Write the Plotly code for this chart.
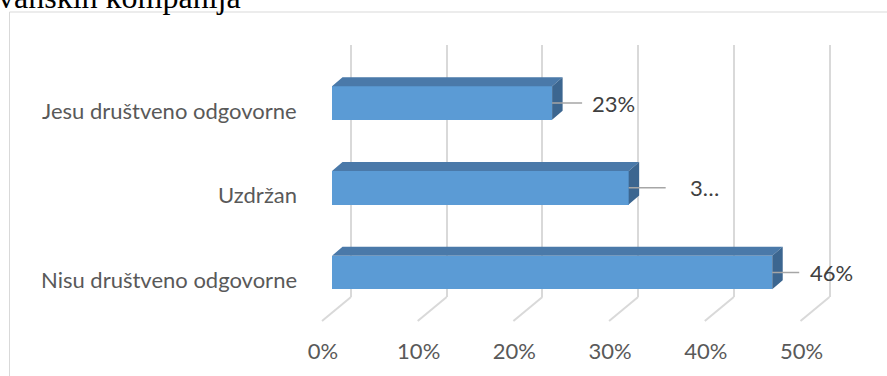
import plotly.graph_objects as go

# ---- data -------------------------------------------------------------
categories = ["Jesu društveno odgovorne", "Uzdržan", "Nisu društveno odgovorne"]
values = [23, 31, 46]                      # percent
x_ticks = [0, 10, 20, 30, 40, 50]
tick_labels = [f"{t}%" for t in x_ticks]
title_text = "vanskih kompanija"

# ---- geometry of the pseudo-3D projection (pixels) ----------------------
W, H = 887, 376
PX_PER_PCT = 9.57          # horizontal scale, px per percent
FRONT_ZERO_PX = 332        # x pixel of 0 % on the bar front faces
WALL_ZERO_PX = 351         # x pixel of 0 % on the back wall
FLOOR_FRONT_SHIFT = -10    # front edge of the floor relative to the bar fronts
ROW0_PX = 272.5            # y pixel of the lowest category centre
ROW_STEP_PX = 84.75        # distance between category rows
WALL_TOP_PX, WALL_BOTTOM_PX = 45, 297
FLOOR_FRONT_PX = 321
BAR_H_PX = 33.5
DEPTH_DX_PX, DEPTH_DY_PX = 10.5, 9.0
TICK_LABEL_PX = 353
TICK_LABEL_SHIFT = -9
CAT_LABEL_RIGHT_PX = 299

FRONT = "#5b9bd5"
TOP = "#4a79a9"
SIDE = "#3c6690"
GRID = "#d9d9d9"
FONT = "Lato"


def yu(py):
    """pixel row -> category-axis units"""
    return (ROW0_PX - py) / ROW_STEP_PX


def xu(px):
    """pixel column -> percent units on the bar axis"""
    return (px - FRONT_ZERO_PX) / PX_PER_PCT


n = len(categories)
rows = [n - 1 - i for i in range(n)]          # first category drawn on top
half = BAR_H_PX / 2 / ROW_STEP_PX
ddx = DEPTH_DX_PX / PX_PER_PCT
ddy = DEPTH_DY_PX / ROW_STEP_PX

fig = go.Figure()

# back wall grid lives on its own axis pair (drawn first, so it sits behind)
fig.add_trace(go.Scatter(x=[], y=[], xaxis="x", yaxis="y", showlegend=False,
                         hoverinfo="skip"))

# floor grid lines running from the wall to the front edge
wall_off = (WALL_ZERO_PX - FRONT_ZERO_PX) / PX_PER_PCT
front_off = FLOOR_FRONT_SHIFT / PX_PER_PCT
fx, fy = [], []
for t in x_ticks:
    fx += [t + wall_off, t + front_off, None]
    fy += [yu(WALL_BOTTOM_PX), yu(FLOOR_FRONT_PX), None]
fig.add_trace(go.Scatter(x=fx, y=fy, mode="lines", xaxis="x2", yaxis="y2",
                         line=dict(color=GRID, width=2), showlegend=False,
                         hoverinfo="skip"))

# bar front faces
fig.add_trace(go.Bar(x=values, y=rows, orientation="h", width=2 * half,
                     marker=dict(color=FRONT, line=dict(width=0)),
                     xaxis="x2", yaxis="y2", showlegend=False, hoverinfo="skip"))

# top and side faces
tx, ty, sx, sy = [], [], [], []
for v, r in zip(values, rows):
    tx += [0, v, v + ddx, ddx, 0, None]
    ty += [r + half, r + half, r + half + ddy, r + half + ddy, r + half, None]
    sx += [v, v, v + ddx, v + ddx, v, None]
    sy += [r - half, r + half, r + half + ddy, r - half + ddy, r - half, None]
fig.add_trace(go.Scatter(x=tx, y=ty, mode="lines", fill="toself", fillcolor=TOP,
                         line=dict(width=0, color=TOP), xaxis="x2", yaxis="y2",
                         showlegend=False, hoverinfo="skip"))
fig.add_trace(go.Scatter(x=sx, y=sy, mode="lines", fill="toself", fillcolor=SIDE,
                         line=dict(width=0, color=SIDE), xaxis="x2", yaxis="y2",
                         showlegend=False, hoverinfo="skip"))

# data labels with leader lines
leader_px = [30, 37, 27]
gap_px = [8, 22, 9]
data_labels = [f"{v}%" for v in values]
# the middle label box is too narrow for its text, so it is shortened
data_labels[1] = data_labels[1][:1] + "…"
lx, ly = [], []
for v, r, L in zip(values, rows, leader_px):
    lx += [v, v + L / PX_PER_PCT, None]
    ly += [r, r, None]
fig.add_trace(go.Scatter(x=lx, y=ly, mode="lines", xaxis="x2", yaxis="y2",
                         line=dict(color="#a6a6a6", width=1.5), showlegend=False,
                         hoverinfo="skip"))

annotations = []
for v, r, L, g, txt in zip(values, rows, leader_px, gap_px, data_labels):
    annotations.append(dict(x=v, y=r, xref="x2", yref="y2", text=txt,
                            showarrow=False, xanchor="left", yanchor="middle",
                            xshift=L + g, font=dict(family=FONT, size=22, color="#404040")))

# category labels
for c, r in zip(categories, rows):
    annotations.append(dict(x=CAT_LABEL_RIGHT_PX / W, y=r, xref="paper", yref="y2",
                            text=c, showarrow=False, xanchor="right", yanchor="middle",
                            yshift=-7, font=dict(family=FONT, size=22, color="#595959")))

# value axis labels along the front of the floor
fig.add_trace(go.Scatter(x=[t + TICK_LABEL_SHIFT / PX_PER_PCT for t in x_ticks],
                         y=[yu(TICK_LABEL_PX)] * len(x_ticks), mode="text",
                         text=tick_labels, textposition="middle center",
                         textfont=dict(family=FONT, size=22, color="#595959"),
                         xaxis="x2", yaxis="y2", showlegend=False, hoverinfo="skip",
                         cliponaxis=False))

# title (only its lower part fits on the page)
annotations.append(dict(x=-4 / W, y=1 - 17.5 / H, xref="paper", yref="paper",
                        text=title_text, showarrow=False, xanchor="left",
                        yanchor="bottom",
                        font=dict(family="Liberation Serif", size=32, color="#000000")))

fig.update_layout(
    width=W, height=H,
    margin=dict(l=0, r=0, t=0, b=0),
    paper_bgcolor="white", plot_bgcolor="rgba(0,0,0,0)",
    bargap=0,
    annotations=annotations,
    shapes=[dict(type="rect", xref="paper", yref="paper",
                 x0=9.5 / W, x1=1.05, y0=-0.1, y1=1 - 12 / H,
                 line=dict(color=GRID, width=1), fillcolor="rgba(0,0,0,0)",
                 layer="below")],
    xaxis=dict(domain=[0, 1], anchor="y",
               range=[(0 - WALL_ZERO_PX) / PX_PER_PCT, (W - WALL_ZERO_PX) / PX_PER_PCT],
               tickvals=x_ticks, showticklabels=False, ticks="",
               showgrid=True, gridcolor=GRID, gridwidth=2, zeroline=False,
               showline=False, fixedrange=True),
    yaxis=dict(domain=[1 - WALL_BOTTOM_PX / H, 1 - WALL_TOP_PX / H], anchor="x",
               range=[0, 1], showgrid=False, showticklabels=False, ticks="",
               zeroline=False, showline=False, fixedrange=True),
    xaxis2=dict(domain=[0, 1], anchor="y2", range=[xu(0), xu(W)],
                showgrid=False, showticklabels=False, ticks="", zeroline=False,
                showline=False, fixedrange=True),
    yaxis2=dict(domain=[0, 1], anchor="x2", range=[yu(H), yu(0)],
                showgrid=False, showticklabels=False, ticks="", zeroline=False,
                showline=False, fixedrange=True),
)

fig.write_html("out.html")
